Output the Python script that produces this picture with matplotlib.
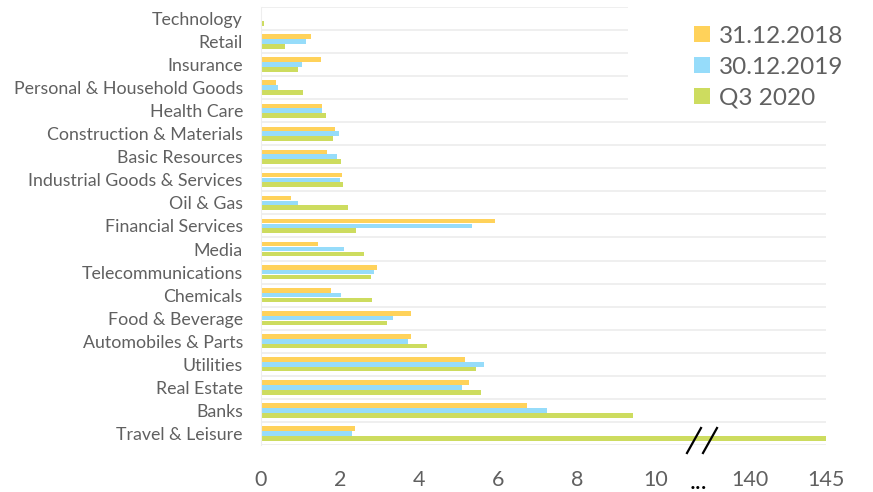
import matplotlib
matplotlib.use('Agg')
import matplotlib.pyplot as plt
from matplotlib.patches import Patch, Rectangle
import numpy as np

plt.rcParams['font.family'] = ['Lato', 'DejaVu Sans']

# categories, top to bottom
sectors = ['Technology', 'Retail', 'Insurance', 'Personal & Household Goods',
           'Health Care', 'Construction & Materials', 'Basic Resources',
           'Industrial Goods & Services', 'Oil & Gas', 'Financial Services',
           'Media', 'Telecommunications', 'Chemicals', 'Food & Beverage',
           'Automobiles & Parts', 'Utilities', 'Real Estate', 'Banks',
           'Travel & Leisure']

val_2018 = [0.01, 1.27, 1.52, 0.38, 1.54, 1.87, 1.68, 2.05, 0.77, 5.92,
            1.43, 2.94, 1.78, 3.79, 3.80, 5.17, 5.26, 6.73, 2.39]
val_2019 = [0.03, 1.13, 1.03, 0.42, 1.55, 1.98, 1.92, 2.00, 0.94, 5.33,
            2.09, 2.85, 2.02, 3.35, 3.71, 5.64, 5.09, 7.25, 2.30]
val_q3 = [0.07, 0.61, 0.93, 1.07, 1.65, 1.82, 2.02, 2.08, 2.21, 2.40,
          2.60, 2.78, 2.80, 3.19, 4.19, 5.44, 5.56, 9.43, 145.0]

series_labels = ['31.12.2018', '30.12.2019', 'Q3 2020']
colors = ['#FFD25A', '#96DCFA', '#CDDC5F']

xticks = [0, 2, 4, 6, 8, 10, 140, 145]

# broken x axis: 0-10 linear, 10-140 squeezed, 140-145 stretched
brk_in = [-1000, 0, 10, 140, 145, 10000]
brk_out = [-1000, 0, 10, 12.38, 14.30, 14.30 + (10000 - 145) * 0.384]


def fwd(v):
    return np.interp(v, brk_in, brk_out)


def inv(v):
    return np.interp(v, brk_out, brk_in)


fig = plt.figure(figsize=(8.73, 4.92), dpi=100)
ax = fig.add_axes([0.299, 0.0955, 0.647, 0.8905])
ax.set_xscale('function', functions=(fwd, inv))

y = np.arange(len(sectors))
h = 0.2
off = 0.21
for vals, c, dy in zip([val_2018, val_2019, val_q3], colors, [-off, 0, off]):
    ax.barh(y + dy, vals, height=h, color=c, zorder=2)

ax.set_xlim(0, 145)
ax.set_ylim(len(sectors) - 0.5, -0.5)

ax.set_yticks(y)
ax.set_yticklabels(sectors, fontsize=12.8, color='#606060')
ax.set_yticks(np.arange(-0.5, len(sectors)), minor=True)
ax.grid(which='minor', axis='y', color='#ececec', linewidth=1.2, zorder=1)
ax.tick_params(axis='y', which='both', length=0, pad=13)

ax.set_xticks(xticks)
ax.set_xticklabels([str(t) for t in xticks], fontsize=15.5, color='#606060')
ax.tick_params(axis='x', length=0, pad=18)

for s in ['top', 'right', 'bottom']:
    ax.spines[s].set_visible(False)
ax.spines['left'].set_color('#eeeeee')

# axis break marks
for x0 in [687, 703]:
    ax.plot([x0 / 873, (x0 + 14) / 873], [1 - 453 / 492, 1 - 428 / 492],
            transform=fig.transFigure, color='black', lw=1.6,
            clip_on=False, zorder=5)
fig.text(698 / 873, 1 - 489 / 492, '...', fontsize=18, color='black',
         ha='center', va='baseline')

# white area behind the legend
fig.patches.append(Rectangle((628 / 873, 1 - 110 / 492), 1, 1,
                             transform=fig.transFigure, facecolor='white',
                             edgecolor='none', zorder=1))

handles = [Patch(facecolor=c, edgecolor='none') for c in colors]
fig.legend(handles, series_labels, loc='upper left',
           bbox_to_anchor=(672 / 873, 1 - 4 / 492), frameon=False,
           fontsize=17.5, handlelength=0.65, handleheight=0.65,
           handletextpad=0.4, labelspacing=0.4, labelcolor='#606060')

fig.savefig('out.png', dpi=100)
